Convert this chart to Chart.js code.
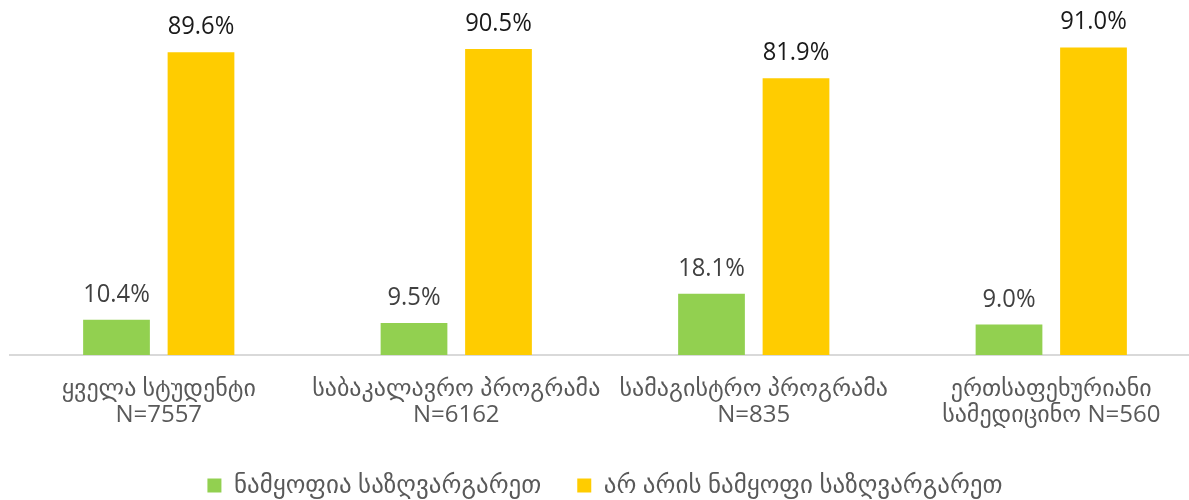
<!DOCTYPE html>
<html>
<head>
<meta charset="utf-8">
<script src="https://cdn.jsdelivr.net/npm/chart.js@4.4.1/dist/chart.umd.min.js"></script>
<style>
  html, body { margin: 0; padding: 0; background: #ffffff; overflow: hidden; }
  #wrap { position: relative; width: 1200px; height: 500px; }
</style>
</head>
<body>
<div id="wrap"><canvas id="c"></canvas></div>
<script>
const categories = [
  ['ყველა სტუდენტი', 'N=7557'],
  ['საბაკალავრო პროგრამა', 'N=6162'],
  ['სამაგისტრო პროგრამა', 'N=835'],
  ['ერთსაფეხურიანი', 'სამედიცინო N=560']
];
const seriesNames = ['ნამყოფია საზღვარგარეთ', 'არ არის ნამყოფი საზღვარგარეთ'];
const beenAbroad = [10.4, 9.5, 18.1, 9.0];
const notBeenAbroad = [89.6, 90.5, 81.9, 91.0];

const FONT = '"Open Sans", "DejaVu Sans", sans-serif';

const valueLabels = {
  id: 'valueLabels',
  afterDatasetsDraw(chart) {
    const ctx = chart.ctx;
    const colors = ['#404040', '#1a1a1a'];
    chart.data.datasets.forEach((ds, di) => {
      const meta = chart.getDatasetMeta(di);
      meta.data.forEach((bar, i) => {
        const txt = ds.data[i].toFixed(1) + '%';
        ctx.save();
        ctx.translate(bar.x, bar.y - 18);
        ctx.scale(0.95, 1);
        ctx.font = '25px ' + FONT;
        ctx.fillStyle = colors[di];
        ctx.textAlign = 'center';
        ctx.textBaseline = 'alphabetic';
        ctx.fillText(txt, 0, 0);
        ctx.restore();
      });
    });
  }
};

new Chart(document.getElementById('c'), {
  type: 'bar',
  data: {
    labels: categories,
    datasets: [
      { label: seriesNames[0], data: beenAbroad, backgroundColor: '#92D050', borderWidth: 0 },
      { label: seriesNames[1], data: notBeenAbroad, backgroundColor: '#FFCC00', borderWidth: 0 }
    ]
  },
  options: {
    responsive: true,
    maintainAspectRatio: false,
    animation: false,
    layout: { padding: { top: 17, left: 10, right: 0, bottom: -8 } },
    datasets: { bar: { categoryPercentage: 0.568, barPercentage: 0.79 } },
    scales: {
      x: {
        grid: { display: false, drawTicks: false },
        border: { display: true, color: '#D9D9D9', width: 2 },
        ticks: { color: '#595959', font: { size: 24, family: FONT, lineHeight: 1.08 }, padding: 21, maxRotation: 0, autoSkip: false },
        afterFit(scale) { scale.height = 82; }
      },
      y: { display: false, min: 0, max: 100 }
    },
    plugins: {
      legend: {
        position: 'bottom',
        labels: {
          color: '#595959',
          font: { size: 25, family: FONT },
          boxWidth: 14,
          boxHeight: 14,
          padding: 36
        }
      },
      tooltip: { enabled: false }
    }
  },
  plugins: [valueLabels]
});
</script>
</body>
</html>
